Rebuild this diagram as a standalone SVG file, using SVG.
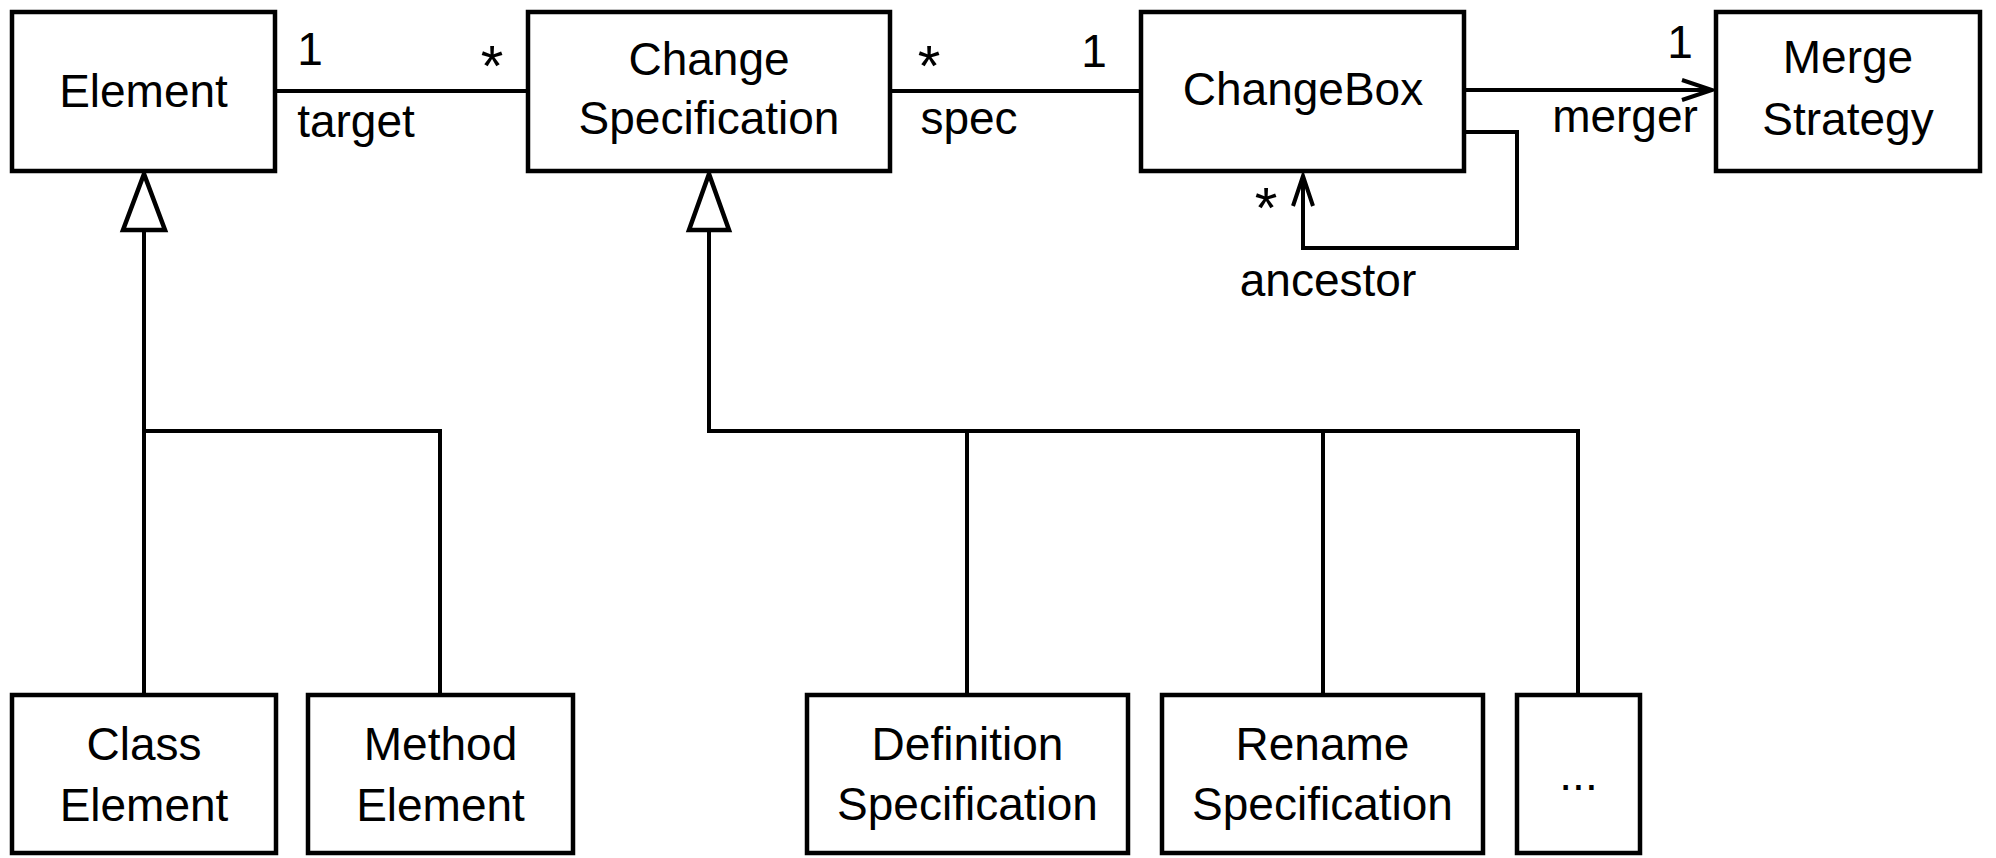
<svg xmlns="http://www.w3.org/2000/svg" width="1996" height="858" viewBox="0 0 1996 858">
<style>
  .box { fill: #fff; stroke: #000; stroke-width: 4.5; }
  .line { fill: none; stroke: #000; stroke-width: 4; stroke-linejoin: miter; }
  .gen { fill: #fff; stroke: #000; stroke-width: 4.5; stroke-linejoin: miter; }
  text { font-family: "Liberation Sans", Arial, sans-serif; font-size: 46px; fill: #000; }
  .c { text-anchor: middle; }
  .star { font-size: 58px; }
</style>
<defs>
  <marker id="open" markerUnits="userSpaceOnUse" viewBox="-34 -14 38 28" refX="0" refY="0" markerWidth="38" markerHeight="28" orient="auto">
    <path d="M-30,-10 L0,0 L-30,10" fill="none" stroke="#000" stroke-width="4"/>
  </marker>
</defs>
<rect width="1996" height="858" fill="#fff"/>

<g id="connectors">
  <path class="line" d="M275,91 H528"/>
  <path class="line" d="M890,91 H1141"/>
  <path class="line" d="M1464,90 H1712" marker-end="url(#open)"/>
  <path class="line" d="M1464,132 H1517 V248 H1303 V176" marker-end="url(#open)"/>
  <path class="line" d="M144,230 V695 M144,431 H440 V695"/>
  <path class="line" d="M709,230 V431 H1578 V695 M967,431 V695 M1323,431 V695"/>
  <polygon class="gen" points="144,174 123,230 165,230"/>
  <polygon class="gen" points="709,174 689,230 729,230"/>
  <text class="c" x="310" y="65">1</text>
  <text class="c star" x="492" y="86">*</text>
  <text class="c" x="356" y="137">target</text>
  <text class="c star" x="929" y="86">*</text>
  <text class="c" x="1094" y="67">1</text>
  <text class="c" x="969" y="134">spec</text>
  <text class="c" x="1680" y="58">1</text>
  <text class="c" x="1625" y="132">merger</text>
  <text class="c star" x="1266" y="228">*</text>
  <text class="c" x="1328" y="296">ancestor</text>
</g>

<g id="element">
  <rect class="box" x="12" y="12" width="263" height="159"/>
  <text class="c" x="143.5" y="107">Element</text>
</g>
<g id="change-specification">
  <rect class="box" x="528" y="12" width="362" height="159"/>
  <text class="c" x="709" y="75">Change</text>
  <text class="c" x="709" y="134">Specification</text>
</g>
<g id="changebox">
  <rect class="box" x="1141" y="12" width="323" height="159"/>
  <text class="c" x="1303" y="105">ChangeBox</text>
</g>
<g id="merge-strategy">
  <rect class="box" x="1716" y="12" width="264" height="159"/>
  <text class="c" x="1848" y="73">Merge</text>
  <text class="c" x="1848" y="135">Strategy</text>
</g>
<g id="class-element">
  <rect class="box" x="12" y="695" width="264" height="158"/>
  <text class="c" x="144" y="760">Class</text>
  <text class="c" x="144" y="821">Element</text>
</g>
<g id="method-element">
  <rect class="box" x="308" y="695" width="265" height="158"/>
  <text class="c" x="440.5" y="760">Method</text>
  <text class="c" x="440.5" y="821">Element</text>
</g>
<g id="definition-specification">
  <rect class="box" x="807" y="695" width="321" height="158"/>
  <text class="c" x="967.5" y="760">Definition</text>
  <text class="c" x="967.5" y="820">Specification</text>
</g>
<g id="rename-specification">
  <rect class="box" x="1162" y="695" width="321" height="158"/>
  <text class="c" x="1322.5" y="760">Rename</text>
  <text class="c" x="1322.5" y="820">Specification</text>
</g>
<g id="more">
  <rect class="box" x="1517" y="695" width="123" height="158"/>
  <text class="c" x="1578.5" y="790">...</text>
</g>
</svg>
